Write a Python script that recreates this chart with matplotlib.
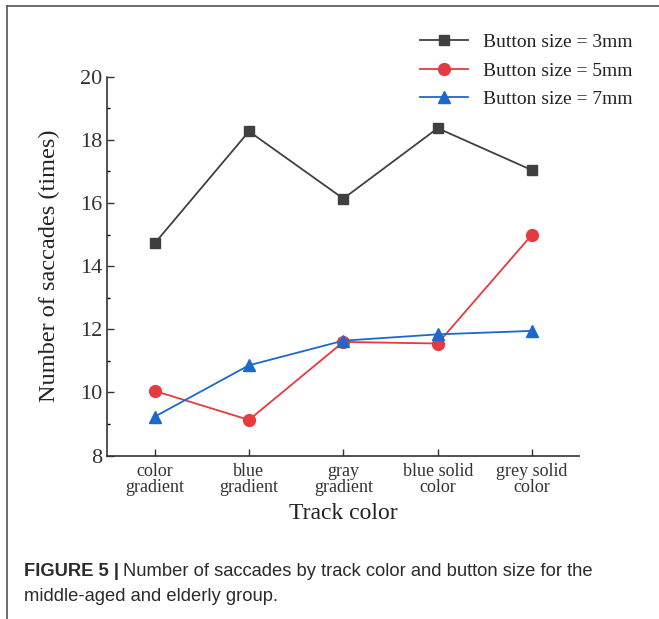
import matplotlib.pyplot as plt
from matplotlib.lines import Line2D
from matplotlib.ticker import MultipleLocator

# Track colour categories and saccade counts per button size
categories = ["color\ngradient", "blue\ngradient", "gray\ngradient",
              "blue solid\ncolor", "grey solid\ncolor"]
size_3mm = [14.72, 18.27, 16.14, 18.37, 17.04]
size_5mm = [10.05, 9.13, 11.60, 11.55, 15.00]
size_7mm = [9.23, 10.86, 11.64, 11.84, 11.95]

serif = "Liberation Serif"
ink = "#222222"

fig = plt.figure(figsize=(6.59, 6.19), dpi=100)
ax = fig.add_axes([0.163, 0.264, 0.716, 0.612])

x = range(len(categories))
ax.plot(x, size_3mm, color="#404040", marker="s", markersize=7.5, lw=1.3,
        label="Button size = 3mm")
ax.plot(x, size_5mm, color="#e53a3f", marker="o", markersize=8.5, lw=1.3,
        label="Button size = 5mm")
ax.plot(x, size_7mm, color="#1c68cc", marker="^", markersize=8.5, lw=1.3,
        label="Button size = 7mm")

ax.set_xlim(-0.5, 4.5)
ax.set_ylim(8, 20)
ax.set_xticks(list(x))
ax.set_xticklabels(categories, fontfamily=serif, fontsize=13, linespacing=0.95,
                   color=ink)
ax.yaxis.set_major_locator(MultipleLocator(2))
ax.yaxis.set_minor_locator(MultipleLocator(1))
for lab in ax.get_yticklabels():
    lab.set_fontfamily(serif)
    lab.set_fontsize(16)
    lab.set_color(ink)
ax.tick_params(direction="in", length=5, width=1, colors="#333333")
ax.tick_params(which="minor", direction="in", length=2.5, width=1)
ax.tick_params(axis="x", pad=5)
ax.tick_params(axis="y", pad=4)

for s in ["top", "right"]:
    ax.spines[s].set_visible(False)
for s in ["left", "bottom"]:
    ax.spines[s].set_color("#333333")
    ax.spines[s].set_linewidth(1.2)

ax.set_xlabel("Track color", fontfamily=serif, fontsize=17, labelpad=5,
              color=ink)
ax.set_ylabel("Number of saccades (times)", fontfamily=serif, fontsize=17.5,
              labelpad=14, color=ink)

leg = ax.legend(loc="upper right", bbox_to_anchor=(1.15, 1.16), frameon=False,
                prop={"family": serif, "size": 14}, handlelength=2.5,
                labelspacing=0.55, handletextpad=0.75)
for t in leg.get_texts():
    t.set_color(ink)

# frame lines of the figure panel
fig.add_artist(Line2D([0.011, 1.0], [0.990, 0.990], color="#555555", lw=1.2))
fig.add_artist(Line2D([0.011, 0.011], [0.0, 0.990], color="#555555", lw=1.2))

cap = {"fontfamily": "Liberation Sans", "fontsize": 13.2, "color": "#2b2b2b",
       "va": "center"}
head = fig.text(0.037, 0.077, "FIGURE 5 |", fontweight="bold", **cap)
fig.canvas.draw()
bb = head.get_window_extent().transformed(fig.transFigure.inverted())
fig.text(bb.x1 + 0.006, 0.077,
         "Number of saccades by track color and button size for the", **cap)
fig.text(0.037, 0.036, "middle-aged and elderly group.", **cap)

fig.savefig("out.png", dpi=100)
